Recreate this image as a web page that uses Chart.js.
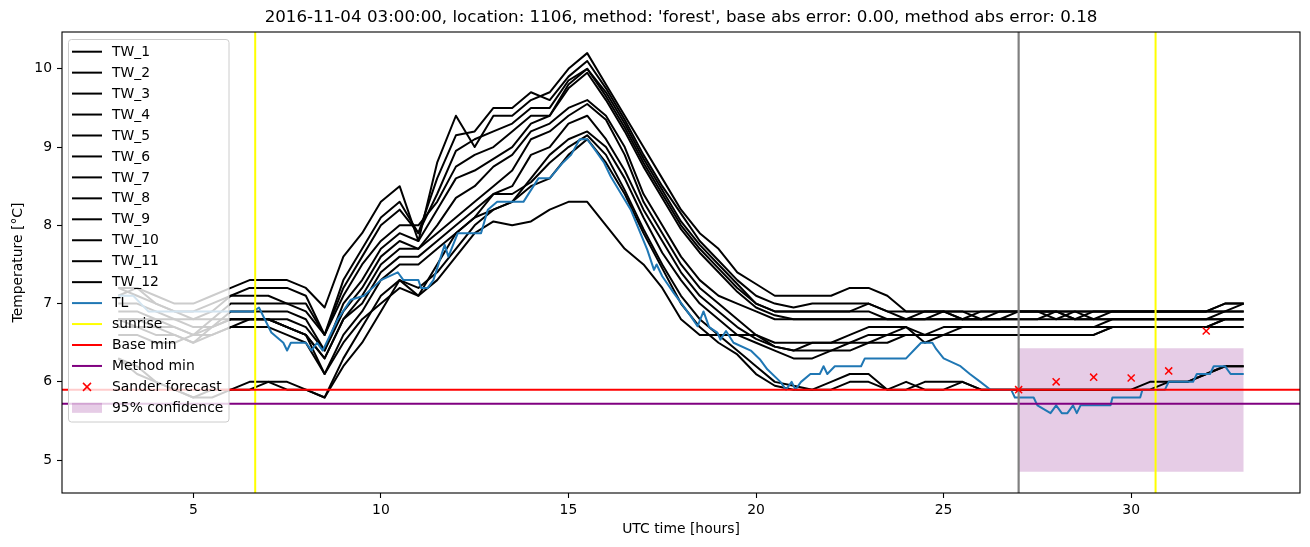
<!DOCTYPE html>
<html><head><meta charset="utf-8">
<script src="https://cdn.jsdelivr.net/npm/chart.js@4.4.1/dist/chart.umd.min.js"></script>
<style>html,body{margin:0;padding:0;background:#fff;}#wrap{width:1310px;height:547px;}</style>
</head><body><div id="wrap"><canvas id="c" width="1310" height="547"></canvas></div>
<script>
const hours = [3,3.5,4,4.5,5,5.5,6,6.5,7,7.5,8,8.5,9,9.5,10,10.5,11,11.5,12,12.5,13,13.5,14,14.5,15,15.5,16,16.5,17,17.5,18,18.5,19,19.5,20,20.5,21,21.5,22,22.5,23,23.5,24,24.5,25,25.5,26,26.5,27,27.5,28,28.5,29,29.5,30,30.5,31,31.5,32,32.5,33];

const TW_1 = [7.2,7.2,7.1,7.0,7.0,7.1,7.2,7.3,7.3,7.3,7.2, 6.95,7.6,7.9,8.3,8.5,7.8,8.8, 9.4,9.0,9.4,9.4,9.6,9.7, 10.0,10.2,9.8, 9.4,9.0,8.6,8.2,7.9,7.7,7.4,7.25,7.1,7.1, 7.1,7.1,7.2,7.2,7.1,6.9,6.9,6.9,6.9,6.9,6.9,6.9, 6.9,6.9,6.9,6.9,6.9,6.9,6.9,6.9,6.9,6.9,7.0,7.0];
const TW_2 = [7.1,7.2,7.0,6.9,6.9,7.0,7.1,7.2,7.2,7.2,7.1, 6.6,7.3,7.7,8.1,8.3,7.9,8.6, 9.15,9.2,9.5,9.5,9.7,9.6, 9.9,10.1,9.75, 9.35,8.9,8.5,8.15,7.8,7.55,7.3,7.1,7.0,6.95, 7.0,7.0,7.0,7.0,6.9,6.9,6.9,6.9,6.8,6.9,6.9,6.9, 6.9,6.8,6.9,6.9,6.9,6.9,6.9,6.9,6.9,6.9,7.0,7.0];
const TW_3 = [7.0,7.0,6.9,6.8,6.8,6.9,7.1,7.1,7.1,7.0,7.0, 6.6,7.2,7.6,8.0,8.2,7.9,8.4, 8.95,9.1,9.2,9.3,9.5,9.5, 9.85,10.0,9.7, 9.3,8.85,8.45,8.05,7.75,7.5,7.25,7.0,6.9,6.9, 6.9,6.9,6.9,7.0,6.9,6.8,6.9,6.9,6.9,6.8,6.9,6.9, 6.9,6.9,6.8,6.9,6.9,6.9,6.9,6.9,6.9,6.9,6.9,6.9];
const TW_4 = [6.9,6.9,6.8,6.8,6.7,6.7,6.9,6.9,6.9,6.9,6.8, 6.4,7.0,7.3,7.7,7.9,7.8,8.2, 8.6,8.7,8.85,9.0,9.3,9.4, 9.75,9.95,9.6, 9.2,8.75,8.35,7.95,7.65,7.4,7.15,6.95,6.85,6.8, 6.8,6.8,6.8,6.8,6.8,6.8,6.8,6.8,6.8,6.8,6.8,6.8, 6.8,6.9,6.8,6.8,6.8,6.8,6.8,6.8,6.8,6.8,6.9,7.0];
const TW_5 = [6.8,6.8,6.8,6.7,6.6,6.8,6.8,6.8,6.8,6.8,6.7, 6.4,6.9,7.2,7.6,7.8,7.7,8.0, 8.35,8.5,8.75,8.9,9.2,9.3, 9.5,9.6,9.4, 9.0,8.4,8.0,7.6,7.3,7.1,7.0,6.9,6.8,6.8, 6.8,6.8,6.8,6.8,6.8,6.8,6.8,6.8,6.8,6.8,6.8,6.8, 6.8,6.8,6.8,6.8,6.8,6.8,6.8,6.8,6.8,6.8,6.8,6.8];
const TW_6 = [6.8,6.7,6.7,6.6,6.5,6.7,6.8,6.8,6.8,6.7,6.6, 6.3,6.8,7.1,7.5,7.7,7.7,7.9, 8.1,8.3,8.5,8.7,9.1,9.2, 9.4,9.55,9.35, 8.9,8.3,7.9,7.5,7.2,7.0,6.8,6.6,6.5,6.5, 6.5,6.5,6.6,6.7,6.7,6.7,6.6,6.7,6.7,6.7,6.7,6.7, 6.7,6.7,6.7,6.7,6.7,6.7,6.7,6.7,6.7,6.7,6.8,6.8];
const TW_7 = [6.7,6.7,6.6,6.6,6.5,6.6,6.7,6.8,6.8,6.7,6.6, 6.3,6.8,7.0,7.4,7.6,7.6,7.8, 8.0,8.2,8.4,8.5,8.9,9.0, 9.3,9.4,9.1, 8.7,8.2,7.8,7.4,7.1,6.9,6.7,6.55,6.45,6.4, 6.5,6.5,6.5,6.6,6.6,6.7,6.5,6.6,6.7,6.7,6.7,6.7, 6.7,6.7,6.7,6.7,6.8,6.8,6.8,6.8,6.8,6.8,6.8,6.8];
const TW_8 = [6.6,6.6,6.5,6.5,6.6,6.6,6.7,6.7,6.7,6.6,6.5, 6.1,6.6,6.9,7.3,7.5,7.5,7.7, 7.9,8.1,8.2,8.3,8.6,8.9, 9.1,9.2,9.0, 8.6,8.1,7.65,7.3,7.0,6.8,6.6,6.5,6.4,6.3, 6.3,6.4,6.4,6.5,6.5,6.6,6.6,6.6,6.6,6.6,6.6,6.6, 6.6,6.6,6.6,6.6,6.7,6.7,6.7,6.7,6.7,6.7,6.8,6.8];
const TW_9 = [6.8,6.8,6.7,6.7,6.6,6.7,6.8,6.8,6.8,6.7,6.6, 6.1,6.5,6.8,7.0,7.2,7.1,7.3, 7.6,7.9,8.05,8.0,8.05,8.2, 8.3,8.3,8.0, 7.7,7.5,7.2,6.8,6.6,6.6,6.6,6.6,6.45,6.4, 6.4,6.4,6.5,6.5,6.6,6.6,6.6,6.6,6.6,6.6,6.6,6.6, 6.6,6.6,6.6,6.6,6.7,6.7,6.7,6.7,6.7,6.7,6.7,6.7];
const TW_10 = [6.3,6.2,6.0,5.9,5.8,5.9,5.9,6.0,6.0,6.0,5.9, 5.8,6.3,6.7,7.1,7.3,7.1,7.5, 7.9,8.1,8.4,8.4,8.55,8.8, 9.0,9.15,8.9, 8.45,7.95,7.5,7.1,6.8,6.6,6.4,6.2,6.0,5.95, 5.9,6.0,6.1,6.1,5.9,5.9,6.0,6.0,6.0,5.9,5.9,5.9, 5.9,5.9,5.9,5.9,5.9,5.9,6.0,6.0,6.0,6.1,6.2,6.2];
const TW_11 = [6.3,6.1,6.0,5.9,5.8,5.8,5.9,5.9,6.0,5.9,5.9, 5.8,6.2,6.5,6.9,7.3,7.2,7.4, 7.7,8.0,8.2,8.3,8.5,8.6, 8.9,9.1,8.8, 8.4,7.9,7.45,7.0,6.7,6.5,6.35,6.1,5.95,5.9, 5.9,5.9,6.0,6.0,5.9,6.0,5.9,5.9,6.0,5.9,5.9,5.9, 5.9,5.9,5.9,5.9,5.9,5.9,5.9,6.0,6.0,6.1,6.2,6.2];
const TW_12 = [7.2,7.1,7.0,6.9,6.8,6.8,7.0,7.0,7.0,7.0,6.9, 6.6,7.1,7.5,7.8,8.0,8.0,8.3, 8.75,8.9,9.0,9.2,9.4,9.4, 9.8,10.0,9.65, 9.25,8.8,8.4,8.0,7.7,7.45,7.2,7.0,6.9,6.9, 6.9,6.9,6.9,6.9,6.8,6.8,6.8,6.9,6.8,6.8,6.8,6.9, 6.9,6.9,6.9,6.8,6.9,6.9,6.9,6.9,6.9,6.9,6.9,6.9];
const twSeries = [TW_1,TW_2,TW_3,TW_4,TW_5,TW_6,TW_7,TW_8,TW_9,TW_10,TW_11,TW_12];
const twNames = ['TW_1','TW_2','TW_3','TW_4','TW_5','TW_6','TW_7','TW_8','TW_9','TW_10','TW_11','TW_12'];

const tlHours = [3,3.4,3.6,3.8,6.6,6.75,7.08,7.4,7.5,7.6,8.0,8.15,8.3,8.45,8.55,8.85,9.2,9.55,10.0,10.45,10.6,11.0,11.07,11.25,11.4,11.7,11.8,12.05,12.67,12.85,13.1,13.8,14.2,14.5,14.85,15.07,15.3,15.5,15.7,15.95,16.13,16.66,17.1,17.28,17.35,17.5,17.8,18.26,18.44,18.6,18.75,18.97,19.05,19.2,19.4,19.86,20.1,20.3,20.65,20.8,20.95,21.05,21.2,21.45,21.7,21.8,21.9,22.1,22.8,22.9,24.0,24.2,24.4,24.7,24.8,25.0,25.45,25.7,25.98,26.25,26.8,26.9,27.4,27.5,27.85,28.0,28.15,28.3,28.45,28.55,28.65,29.45,29.5,30.24,30.3,30.9,31.0,31.65,31.75,32.1,32.2,32.5,32.65,33.0];
const tlValues = [7.1,7.1,7.0,6.9,6.9,6.95,6.63,6.5,6.4,6.5,6.5,6.4,6.5,6.4,6.5,6.8,7.05,7.1,7.3,7.4,7.3,7.3,7.2,7.2,7.3,7.75,7.6,7.9,7.9,8.2,8.3,8.3,8.6,8.6,8.8,8.9,9.1,9.1,8.97,8.8,8.62,8.2,7.69,7.43,7.5,7.35,7.14,6.84,6.71,6.9,6.7,6.63,6.54,6.65,6.5,6.4,6.29,6.16,6.0,5.9,6.0,5.9,6.0,6.1,6.1,6.2,6.1,6.2,6.2,6.3,6.3,6.4,6.5,6.5,6.42,6.3,6.2,6.1,6.0,5.9,5.9,5.8,5.8,5.7,5.6,5.7,5.6,5.6,5.7,5.6,5.7,5.7,5.8,5.8,5.9,5.9,6.0,6.0,6.1,6.1,6.2,6.2,6.1,6.1];

const sunriseHours = [6.65, 30.65];
const forecastStartHour = 27;
const baseMin = 5.9;
const methodMin = 5.72;
const sanderHours = [27,28,29,30,31,32];
const sanderValues = [5.9,6.0,6.06,6.05,6.14,6.65];
const confHours = [27,33];
const confLower = 4.85;
const confUpper = 6.43;

const xRange = [1.5, 34.5];
const yRange = [4.58, 10.47];
const xTicks = [5,10,15,20,25,30];
const yTicks = [5,6,7,8,9,10];

const titleText = "2016-11-04 03:00:00, location: 1106, method: 'forest', base abs error: 0.00, method abs error: 0.18";
const xLabel = 'UTC time [hours]';
const yLabel = 'Temperature [°C]';

const FONT = '"DejaVu Sans", "Liberation Sans", sans-serif';
const TL_COLOR = '#1f77b4';
const CONF_COLOR = 'rgba(128,0,128,0.2)';
const LW = 2;

const datasets = [];
twSeries.forEach((s, k) => {
  datasets.push({label: twNames[k], data: hours.map((h, i) => ({x: h, y: s[i]})),
    borderColor: '#000', borderWidth: LW, pointRadius: 0, tension: 0, order: 30,
    borderJoinStyle: 'round', fill: false});
});
datasets.push({label: 'TL', data: tlHours.map((h, i) => ({x: h, y: tlValues[i]})),
  borderColor: TL_COLOR, borderWidth: LW, pointRadius: 0, tension: 0, order: 20, borderJoinStyle: 'round', fill: false});
datasets.push({label: 'sunrise', data: [
    {x: sunriseHours[0], y: yRange[0]}, {x: sunriseHours[0], y: yRange[1]}, {x: 18, y: null},
    {x: sunriseHours[1], y: yRange[0]}, {x: sunriseHours[1], y: yRange[1]}],
  borderColor: '#ffff00', borderWidth: LW, pointRadius: 0, spanGaps: false, order: 8, fill: false});
datasets.push({label: 'Base min', data: [{x: xRange[0], y: baseMin}, {x: xRange[1], y: baseMin}],
  borderColor: '#ff0000', borderWidth: LW, pointRadius: 0, order: 7, fill: false});
datasets.push({label: 'Method min', data: [{x: xRange[0], y: methodMin}, {x: xRange[1], y: methodMin}],
  borderColor: '#800080', borderWidth: LW, pointRadius: 0, order: 6, fill: false});
datasets.push({label: 'Sander forecast', data: sanderHours.map((h, i) => ({x: h, y: sanderValues[i]})),
  showLine: false, pointStyle: 'crossRot', pointRadius: 5, pointBorderWidth: 1.5,
  borderColor: '#ff0000', backgroundColor: '#ff0000', pointBorderColor: '#ff0000', order: 1});
datasets.push({label: '95% confidence', data: confHours.map(h => ({x: h, y: confUpper})),
  borderWidth: 0, borderColor: 'rgba(0,0,0,0)', backgroundColor: CONF_COLOR, pointRadius: 0,
  fill: {value: confLower}, order: 40});
datasets.push({label: '_now', data: [{x: forecastStartHour, y: yRange[0]}, {x: forecastStartHour, y: yRange[1]}],
  borderColor: '#808080', borderWidth: 2.2, pointRadius: 0, order: 2, fill: false});

const legendItems = twNames.map(n => ({label: n, kind: 'line', color: '#000'})).concat([
  {label: 'TL', kind: 'line', color: TL_COLOR},
  {label: 'sunrise', kind: 'line', color: '#ffff00'},
  {label: 'Base min', kind: 'line', color: '#ff0000'},
  {label: 'Method min', kind: 'line', color: '#800080'},
  {label: 'Sander forecast', kind: 'marker', color: '#ff0000'},
  {label: '95% confidence', kind: 'patch', color: CONF_COLOR}
]);

const decorPlugin = {
  id: 'decor',
  afterDatasetsDraw(chart) {
    const ctx = chart.ctx, a = chart.chartArea;
    ctx.save();
    ctx.strokeStyle = '#000'; ctx.lineWidth = 1.1;
    ctx.strokeRect(a.left, a.top, a.right - a.left, a.bottom - a.top);
    const bx = 68.5, by = 39.5, bw = 160.5, bh = 382.5, r = 3;
    ctx.beginPath();
    ctx.moveTo(bx + r, by); ctx.lineTo(bx + bw - r, by); ctx.quadraticCurveTo(bx + bw, by, bx + bw, by + r);
    ctx.lineTo(bx + bw, by + bh - r); ctx.quadraticCurveTo(bx + bw, by + bh, bx + bw - r, by + bh);
    ctx.lineTo(bx + r, by + bh); ctx.quadraticCurveTo(bx, by + bh, bx, by + bh - r);
    ctx.lineTo(bx, by + r); ctx.quadraticCurveTo(bx, by, bx + r, by); ctx.closePath();
    ctx.fillStyle = 'rgba(255,255,255,0.8)'; ctx.fill();
    ctx.strokeStyle = '#cccccc'; ctx.lineWidth = 1; ctx.stroke();
    ctx.font = '13.9px ' + FONT; ctx.textBaseline = 'middle'; ctx.textAlign = 'left';
    legendItems.forEach((it, i) => {
      const cy = 51.7 + i * 20.95;
      if (it.kind === 'line') {
        ctx.strokeStyle = it.color; ctx.lineWidth = LW;
        ctx.beginPath(); ctx.moveTo(72, cy); ctx.lineTo(102, cy); ctx.stroke();
      } else if (it.kind === 'marker') {
        ctx.strokeStyle = it.color; ctx.lineWidth = 1.5; const s = 4, cx = 87;
        ctx.beginPath(); ctx.moveTo(cx - s, cy - s); ctx.lineTo(cx + s, cy + s);
        ctx.moveTo(cx - s, cy + s); ctx.lineTo(cx + s, cy - s); ctx.stroke();
      } else {
        ctx.fillStyle = it.color; ctx.fillRect(72, cy - 5, 30, 10);
      }
      ctx.fillStyle = '#000';
      ctx.fillText(it.label, 112, cy + 0.5);
    });
    ctx.restore();
  },
  afterDraw(chart) {
    const ctx = chart.ctx, a = chart.chartArea;
    ctx.save();
    ctx.fillStyle = '#000'; ctx.textAlign = 'center'; ctx.textBaseline = 'middle';
    ctx.font = '16.7px ' + FONT;
    ctx.fillText(titleText, (a.left + a.right) / 2, 18);
    ctx.font = '13.9px ' + FONT;
    ctx.fillText(xLabel, (a.left + a.right) / 2, 529);
    ctx.translate(18, (a.top + a.bottom) / 2); ctx.rotate(-Math.PI / 2);
    ctx.fillText(yLabel, 0, 0);
    ctx.restore();
  }
};

const tickFont = {family: FONT, size: 13.9};
new Chart(document.getElementById('c'), {
  type: 'line',
  data: {datasets},
  options: {
    responsive: false, animation: false, devicePixelRatio: 1,
    layout: {padding: {left: 0, top: 32, right: 10, bottom: 0}},
    plugins: {legend: {display: false}, title: {display: false}, tooltip: {enabled: false}},
    scales: {
      x: {type: 'linear', min: xRange[0], max: xRange[1],
        afterBuildTicks: s => { s.ticks = xTicks.map(v => ({value: v})); },
        afterFit: s => { s.height = 54; },
        ticks: {font: tickFont, color: '#000', padding: 4, maxRotation: 0, autoSkip: false},
        grid: {display: true, drawOnChartArea: false, drawTicks: true, tickLength: 5, color: '#000', tickWidth: 1.1},
        border: {display: false}},
      y: {type: 'linear', min: yRange[0], max: yRange[1],
        afterBuildTicks: s => { s.ticks = yTicks.map(v => ({value: v})); },
        afterFit: s => { s.width = 62; },
        ticks: {font: tickFont, color: '#000', padding: 5, autoSkip: false},
        grid: {display: true, drawOnChartArea: false, drawTicks: true, tickLength: 5, color: '#000', tickWidth: 1.1},
        border: {display: false}}
    }
  },
  plugins: [decorPlugin]
});
</script></body></html>
